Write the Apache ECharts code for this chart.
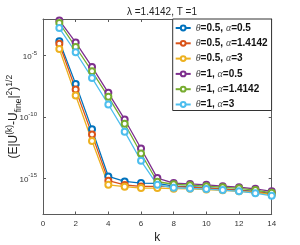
<!DOCTYPE html>
<html><head><meta charset="utf-8">
<script src="https://cdn.jsdelivr.net/npm/echarts@6/dist/echarts.min.js"></script>
<style>html,body{margin:0;padding:0;background:#fff}#c{width:300px;height:245px}</style>
</head><body><div id="c"></div>
<script>
var ks = [1,2,3,4,5,6,7,8,9,10,11,12,13,14];
var xTicks = [0,2,4,6,8,10,12,14];
var yTicks = [1e-15,1e-10,1e-5];
var names = ['θ=0.5, α=0.5','θ=0.5, α=1.4142','θ=0.5, α=3','θ=1, α=0.5','θ=1, α=1.4142','θ=1, α=3'];
var s1 = [1.5e-4,4.9e-8,9.3e-12,1.3e-15,5.1e-16,3.7e-16,3.5e-16,2.1e-16,1.9e-16,1.6e-16,1.26e-16,1.0e-16,7.6e-17,5.0e-17];
var s2 = [9.5e-5,1.7e-8,3.6e-12,5.8e-16,2.6e-16,2.0e-16,2.0e-16,1.9e-16,1.7e-16,1.45e-16,1.17e-16,9.3e-17,7.1e-17,4.7e-17];
var s3 = [3.5e-5,5.5e-9,1.05e-12,2.7e-16,1.9e-16,1.45e-16,1.45e-16,1.3e-16,1.26e-16,1.1e-16,9.5e-17,8.0e-17,6.3e-17,4.2e-17];
var s4 = [7.6e-3,1.2e-4,1.2e-6,9.1e-9,6.0e-11,2.5e-13,9.5e-16,3.7e-16,3.2e-16,2.7e-16,2.1e-16,1.7e-16,1.26e-16,7.9e-17];
var s5 = [4.7e-3,5.1e-5,5.2e-7,4.3e-9,2.7e-11,9.8e-14,4.8e-16,3.0e-16,2.5e-16,2.1e-16,1.7e-16,1.4e-16,1.0e-16,6.0e-17];
var s6 = [1.8e-3,1.9e-5,1.5e-7,1.0e-9,6.0e-12,2.5e-14,2.7e-16,1.55e-16,1.35e-16,1.2e-16,1.0e-16,7.9e-17,5.6e-17,3.4e-17];
var colors = ['#0072BD','#D95319','#EDB120','#7E2F8E','#77AC30','#4DBEEE'];
var allData = [s1,s2,s3,s4,s5,s6];

var axisCol = '#5a5a5a';
function expLabel(v){ var e = Math.round(Math.log10(v)); return '{b|10}{s|' + e + '}'; }
var yRich = { b:{fontSize:8, color:'#333', fontFamily:'Liberation Sans', lineHeight:11, verticalAlign:'bottom'},
              s:{fontSize:6, color:'#333', fontFamily:'Liberation Sans', lineHeight:11, verticalAlign:'top'} };

var series = allData.map(function(d,i){
  return { name:names[i], type:'line', data:ks.map(function(k,j){return [k,d[j]];}),
    symbol:'emptyCircle', symbolSize:6, color:colors[i],
    lineStyle:{width:1.3, color:colors[i]}, itemStyle:{color:colors[i], borderWidth:1.1, borderColor:colors[i]},
    emphasis:{disabled:true}, animation:false };
});

var chart = echarts.init(document.getElementById('c'), null, {renderer:'canvas'});
chart.setOption({
  animation:false,
  title:{ text:'λ =1.4142, T =1', left:157, top:2, textAlign:'center',
    textStyle:{fontSize:10, fontWeight:'normal', color:'#222', fontFamily:'Liberation Sans'} },
  grid:{ left:43, right:28.3, top:19, bottom:30.5, show:false, outerBoundsMode:'none', containLabel:false },
  legend:{ data:names, orient:'vertical', left:172.7, top:19, itemWidth:15, itemHeight:6, itemGap:5.3,
    padding:[4,4,1,2], borderColor:'#333', borderWidth:1, backgroundColor:'#fff',
    formatter:function(n){ return n.replace(/([θα])/g, '{g|$1}').replace(/(=[^,{]+,?\s?)/g,'{t|$1}'); },
    textStyle:{ fontSize:10, fontWeight:'bold', color:'#111', fontFamily:'Liberation Sans',
      rich:{ g:{fontSize:10, fontStyle:'italic', fontWeight:'normal', color:'#444', fontFamily:'Liberation Serif'},
             t:{fontSize:10, fontWeight:'bold', color:'#111', fontFamily:'Liberation Sans'} } } },
  xAxis:[{ type:'value', min:0, max:14, interval:2, position:'bottom',
      axisLine:{onZero:false, lineStyle:{color:axisCol}}, axisTick:{inside:true, length:3, lineStyle:{color:axisCol}},
      axisLabel:{fontSize:8, color:'#333', margin:5, fontFamily:'Liberation Sans'},
      splitLine:{show:false},
      name:'k', nameLocation:'middle', nameGap:17, nameMoveOverlap:false,
      nameTextStyle:{fontSize:12, color:'#222', fontFamily:'Liberation Sans'} },
    { type:'value', min:0, max:14, interval:2, position:'top',
      axisLine:{onZero:false, lineStyle:{color:axisCol}}, axisTick:{inside:true, length:3, lineStyle:{color:axisCol}},
      axisLabel:{show:false}, splitLine:{show:false} }],
  yAxis:[{ type:'log', logBase:10, min:1e-18, max:1e-2, position:'left',
      axisLine:{onZero:false, lineStyle:{color:axisCol}},
      axisTick:{inside:true, length:3, lineStyle:{color:axisCol}, customValues:yTicks},
      axisLabel:{customValues:yTicks, formatter:expLabel, rich:yRich, margin:6},
      minorTick:{show:false}, splitLine:{show:false},
      name:'{a|(E|U}{p|(k)}{a|-U}{d|fine}{a||}{p|2}{a|)}{p|1/2}', nameLocation:'middle', nameRotate:90, nameGap:20,
      nameMoveOverlap:false,
      nameTextStyle:{ fontSize:12, color:'#222', fontFamily:'Liberation Sans',
        rich:{ a:{fontSize:12, color:'#222', fontFamily:'Liberation Sans', lineHeight:18, verticalAlign:'middle'},
               p:{fontSize:8.5, color:'#222', fontFamily:'Liberation Sans', lineHeight:18, verticalAlign:'top'},
               d:{fontSize:8.5, color:'#222', fontFamily:'Liberation Sans', lineHeight:18, verticalAlign:'bottom'} } } },
    { type:'log', logBase:10, min:1e-18, max:1e-2, position:'right',
      axisLine:{onZero:false, lineStyle:{color:axisCol}},
      axisTick:{inside:true, length:3, lineStyle:{color:axisCol}, customValues:yTicks},
      axisLabel:{show:false, customValues:yTicks}, minorTick:{show:false}, splitLine:{show:false} }],
  series: series
});
</script></body></html>
